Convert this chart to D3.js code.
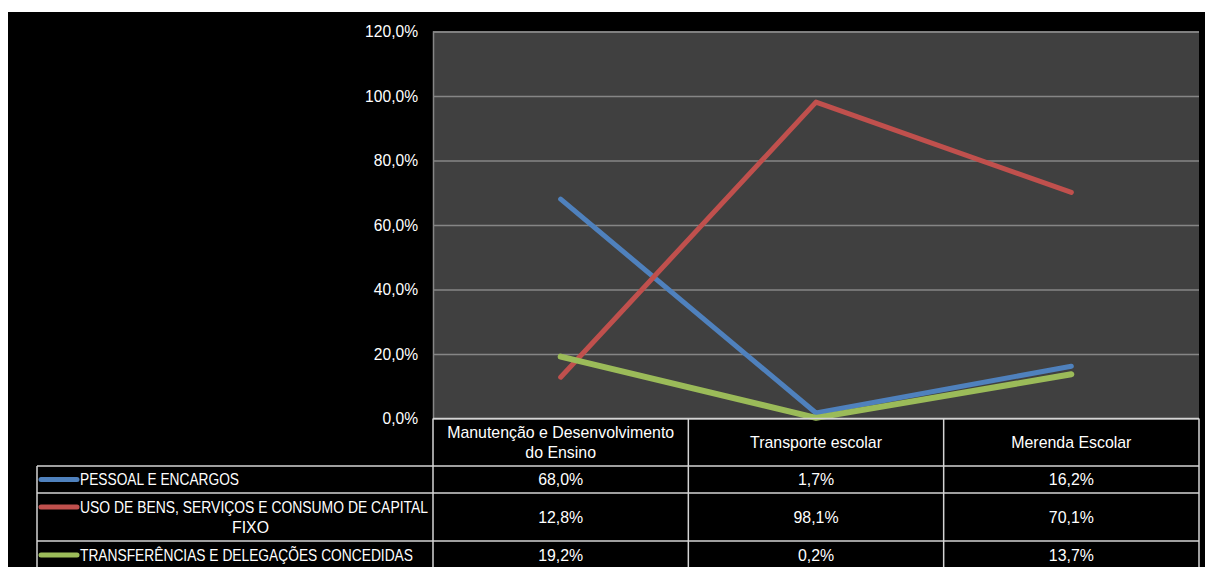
<!DOCTYPE html>
<html>
<head>
<meta charset="utf-8">
<script src="https://cdn.jsdelivr.net/npm/d3@7/dist/d3.min.js"></script>
<style>
  html, body { margin: 0; padding: 0; background: #ffffff; }
  svg { display: block; }
  text { font-family: "Liberation Sans", Arial, sans-serif; fill: #ffffff; }
</style>
</head>
<body>
<svg id="chart" width="1205" height="567"></svg>
<script>
// Categories (table columns) and their header lines
const categories = ["Manutenção e Desenvolvimento do Ensino", "Transporte escolar", "Merenda Escolar"];
const categoryLines = [["Manutenção e Desenvolvimento", "do Ensino"], ["Transporte escolar"], ["Merenda Escolar"]];

// Series names (legend rows), split into lines as shown in the table
const seriesNames = ["PESSOAL E ENCARGOS", "USO DE BENS, SERVIÇOS E CONSUMO DE CAPITAL FIXO", "TRANSFERÊNCIAS E DELEGAÇÕES CONCEDIDAS"];
const seriesLines = [["PESSOAL E ENCARGOS"], ["USO DE BENS, SERVIÇOS E CONSUMO DE CAPITAL", "FIXO"], ["TRANSFERÊNCIAS E DELEGAÇÕES CONCEDIDAS"]];

// Share of each category, by series
const pessoal = [0.680, 0.017, 0.162];
const usoBens = [0.128, 0.981, 0.701];
const transferencias = [0.192, 0.002, 0.137];

const seriesColors = ["#4F81BD", "#C0504D", "#9BBB59"];
const yTicks = [0, 0.2, 0.4, 0.6, 0.8, 1.0, 1.2];

const seriesValues = [pessoal, usoBens, transferencias];
const fmt = v => d3.format(".1f")(v * 100).replace(".", ",") + "%";

const svg = d3.select("#chart");

// Chart background
svg.append("rect").attr("x", 8).attr("y", 12).attr("width", 1197).attr("height", 555).attr("fill", "#000000");

const plot = { left: 433, right: 1199, top: 31.5, bottom: 418.5 };

const x = d3.scaleBand().domain(categories).range([plot.left, plot.right]).padding(0);
const y = d3.scaleLinear().domain([0, 1.2]).range([plot.bottom, plot.top]);

// Plot area
svg.append("rect")
  .attr("x", plot.left).attr("y", plot.top)
  .attr("width", plot.right - plot.left).attr("height", plot.bottom - plot.top)
  .attr("fill", "#404040");

// Gridlines and y labels
const yAxis = d3.axisLeft(y).tickValues(yTicks).tickFormat(fmt)
  .tickSize(-(plot.right - plot.left)).tickPadding(15);
const gy = svg.append("g").attr("transform", `translate(${plot.left},0)`).call(yAxis);
gy.select(".domain").attr("stroke", "#868686").attr("stroke-width", 1.5);
gy.selectAll(".tick line").attr("stroke", "#868686").attr("stroke-width", 1.5);
gy.selectAll(".tick text").attr("font-size", 15.6).attr("fill", "#ffffff")
  .attr("font-family", "'Liberation Sans', Arial, sans-serif");

// Series lines
const line = d3.line()
  .x((d, i) => x(categories[i]) + x.bandwidth() / 2)
  .y(d => y(d));

svg.append("g").selectAll("path")
  .data(seriesValues)
  .join("path")
  .attr("d", d => line(d))
  .attr("fill", "none")
  .attr("stroke", (d, i) => seriesColors[i])
  .attr("stroke-width", (d, i) => i === 2 ? 6 : 5)
  .attr("stroke-linecap", "round")
  .attr("stroke-linejoin", "round");

// Data table
const tableLeft = 37;
const rowEdges = [418.5, 466, 493, 541, 569];
const border = "#d4d4d4";
const tbl = svg.append("g");

// header row: borders only over category columns
tbl.append("line").attr("x1", plot.left).attr("x2", plot.right)
  .attr("y1", rowEdges[0]).attr("y2", rowEdges[0]);
for (let r = 1; r < rowEdges.length - 1; r++) {
  tbl.append("line").attr("x1", tableLeft).attr("x2", plot.right)
    .attr("y1", rowEdges[r]).attr("y2", rowEdges[r]);
}
tbl.append("line").attr("x1", tableLeft).attr("x2", tableLeft)
  .attr("y1", rowEdges[1]).attr("y2", 567);
const colEdges = categories.map(c => x(c)).concat([plot.right]);
colEdges.forEach(cx => {
  tbl.append("line").attr("x1", cx).attr("x2", cx)
    .attr("y1", rowEdges[0]).attr("y2", 567);
});
tbl.selectAll("line").attr("stroke", border).attr("stroke-width", 1.5);

// header labels
categories.forEach((c, i) => {
  const lines = categoryLines[i];
  const cy = (rowEdges[0] + rowEdges[1]) / 2;
  const lh = 20;
  lines.forEach((t, k) => {
    tbl.append("text")
      .attr("x", x(c) + x.bandwidth() / 2)
      .attr("y", cy + (k - (lines.length - 1) / 2) * lh)
      .attr("text-anchor", "middle").attr("dominant-baseline", "central")
      .attr("font-size", 15.9).text(t);
  });
});

// legend cells and values
const legendTextLengths = [[159], [348, 37], [333]];
seriesValues.forEach((vals, s) => {
  const top = rowEdges[s + 1], bottom = rowEdges[s + 2];
  const lines = seriesLines[s];
  const lh = 20;
  const rowMid = s === 2 ? 555 : (top + bottom) / 2;
  const y0 = lines.length > 1 ? top + 14 : rowMid;

  // swatch
  tbl.append("line")
    .attr("x1", 41).attr("x2", 77).attr("y1", y0).attr("y2", y0)
    .attr("stroke", seriesColors[s]).attr("stroke-width", 5).attr("stroke-linecap", "round");

  lines.forEach((t, k) => {
    const txt = tbl.append("text")
      .attr("y", y0 + k * lh)
      .attr("dominant-baseline", "central")
      .attr("font-size", 15.9)
      .attr("textLength", legendTextLengths[s][k])
      .attr("lengthAdjust", "spacingAndGlyphs")
      .text(t);
    if (k === 0) txt.attr("x", 80);
    else txt.attr("x", 232);
  });

  vals.forEach((v, i) => {
    tbl.append("text")
      .attr("x", x(categories[i]) + x.bandwidth() / 2)
      .attr("y", rowMid)
      .attr("text-anchor", "middle").attr("dominant-baseline", "central")
      .attr("font-size", 15.9).text(fmt(v));
  });
});
</script>
</body>
</html>
